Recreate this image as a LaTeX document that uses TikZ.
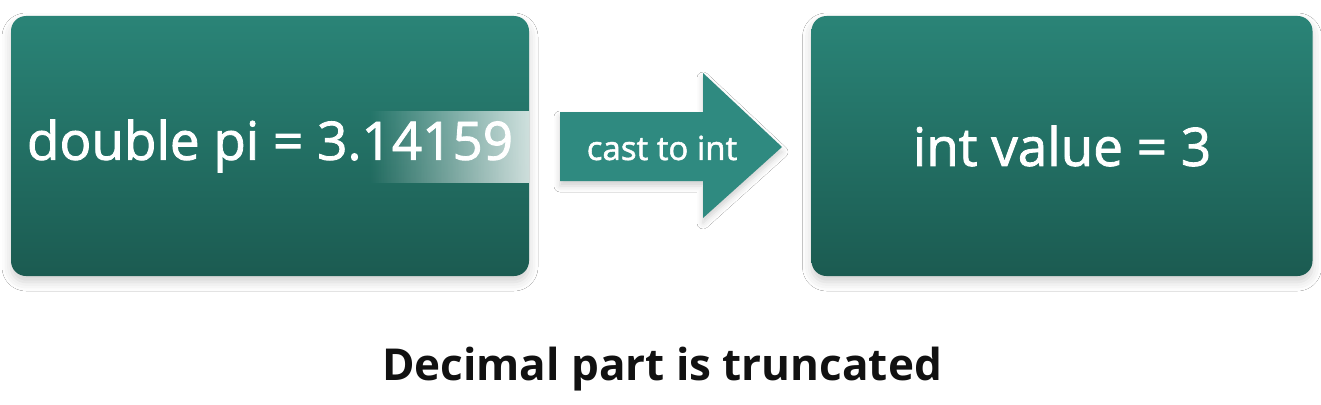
\documentclass[tikz,border=0pt]{standalone}
\usepackage{fontspec}
\setmainfont{Open Sans}
\newfontfamily\medfont[FakeBold=1.6]{Open Sans}
\usetikzlibrary{shadows.blur,fadings}
\definecolor{boxtop}{HTML}{2A8477}
\definecolor{boxbot}{HTML}{1B5B51}
\definecolor{arrowc}{HTML}{2F8A80}
\definecolor{captc}{HTML}{111111}
\tikzfading[name=fadein, left color=transparent!100, right color=transparent!0]
\tikzset{
  card/.style={rounded corners=15pt, top color=boxtop, bottom color=boxbot,
    minimum width=518pt, minimum height=260pt, inner sep=0pt,
    text=white, font=\medfont\fontsize{53}{60}\selectfont,
    blur shadow={shadow xshift=0pt, shadow yshift=-6pt, shadow blur radius=9pt, shadow opacity=18}},
  arrowshape/.style={fill=arrowc,
    blur shadow={shadow xshift=0pt, shadow yshift=-5pt, shadow blur radius=6pt, shadow opacity=18}},
  arrowtext/.style={text=white, font=\medfont\fontsize{33}{38}\selectfont, inner sep=0pt},
  caption/.style={text=captc, font=\bfseries\fontsize{44}{50}\selectfont, inner sep=0pt}
}
\begin{document}
\begin{tikzpicture}[x=1pt,y=-1pt]
\useasboundingbox[fill=white] (0,0) rectangle (1321,404);
\node[card] (src) at (270,146) {double pi = 3.14159};
\node[card, minimum width=501pt] (dst) at (1062,146) {int value = 3};
\fill[white, fill opacity=0.78, path fading=fadein] (370,111) rectangle (529,183);
\draw[arrowshape, draw=none] (560,112) -- (703,112) -- (703,73) -- (782,147) -- (703,218) -- (703,181) -- (560,181) -- cycle;
\node[arrowtext] (cast) at (662,148) {cast to int};
\node[caption] (cap) at (662,369) {Decimal part is truncated};
\end{tikzpicture}
\end{document}
